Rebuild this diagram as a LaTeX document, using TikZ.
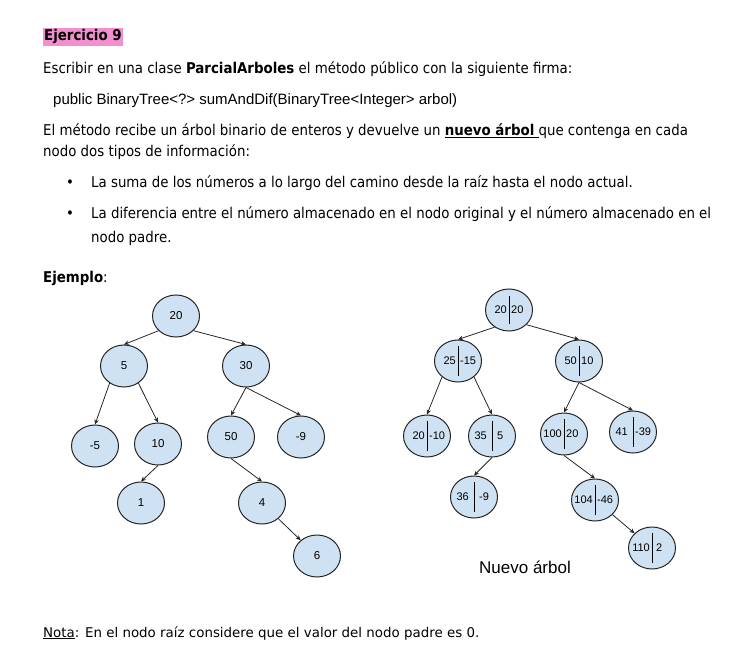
\documentclass[tikz,border=0pt]{standalone}
\usepackage{fontspec}
\setmainfont{DejaVu Sans Condensed}
\newfontfamily\verdana{DejaVu Sans}
\newfontfamily\arial{Liberation Sans}
\usetikzlibrary{arrows.meta,shapes.geometric}
\definecolor{nodeblue}{HTML}{CFE2F3}
\definecolor{hlpink}{HTML}{F48FCF}
\definecolor{edgegray}{HTML}{262626}

\begin{document}
\begin{tikzpicture}[x=1pt,y=-1pt,
  txt/.style={anchor=base west, inner sep=0pt, font=\fontsize{14.85}{17}\selectfont},
  tnode/.style={ellipse, draw=edgegray, line width=1pt, fill=nodeblue,
    minimum width=47pt, minimum height=42pt, inner sep=0pt,
    font=\arial\fontsize{11.5}{13}\selectfont},
  lval/.style={anchor=east, inner sep=2pt, font=\arial\fontsize{11}{13}\selectfont},
  rval/.style={anchor=west, inner sep=2pt, font=\arial\fontsize{11}{13}\selectfont},
  link/.style={draw=edgegray, line width=0.8pt, -{Stealth[length=5pt,width=4.5pt]}},
  div/.style={black, line width=1pt}]

\useasboundingbox (0,0) rectangle (736,660);

% text of the exercise
\node[txt, fill=hlpink, inner xsep=1pt, inner ysep=1.5pt] (title) at (43,41) {\textbf{Ejercicio 9}};
\node[txt] (l1) at (43,74) {Escribir en una clase \textbf{ParcialArboles} el método público con la siguiente firma:};
\node[txt, font=\arial\fontsize{15}{18}\selectfont] (sig) at (53,105) {public BinaryTree<?> sumAndDif(BinaryTree<Integer> arbol)};
\node[txt] (l3) at (43,136) {El método recibe un árbol binario de enteros y devuelve un \underline{\textbf{nuevo árbol}\ }que contenga en cada};
\node[txt] (l4) at (43,157) {nodo dos tipos de información:};
\node[txt] (bul1) at (66,188) {\textbullet};
\node[txt] (it1) at (91,188) {La suma de los números a lo largo del camino desde la raíz hasta el nodo actual.};
\node[txt] (bul2) at (66,219) {\textbullet};
\node[txt] (it2) at (91,219) {La diferencia entre el número almacenado en el nodo original y el número almacenado en el};
\node[txt] (it2b) at (91,243) {nodo padre.};
\node[txt] (ej) at (43,283) {\textbf{Ejemplo}:};

% original tree
\node[tnode] (a20) at (176,316) {20};
\node[tnode] (a5) at (124,366) {5};
\node[tnode] (a30) at (246,366) {30};
\node[tnode] (am5) at (95,446) {-5};
\node[tnode] (a10) at (158,444) {10};
\node[tnode] (a50) at (231,437) {50};
\node[tnode] (am9) at (301,437) {-9};
\node[tnode] (a1) at (141,503) {1};
\node[tnode] (a4) at (262,503) {4};
\node[tnode] (a6) at (317,556) {6};

\draw[link] (a20.220) -- (a5.north);
\draw[link] (a20.320) -- (a30.north);
\draw[link] (a5.230) -- (am5.north);
\draw[link] (a5.310) -- (a10.north);
\draw[link] (a30.south) -- (a50.north);
\draw[link] (a30.south) -- (am9.north);
\draw[link] (a10.south) -- (a1.north);
\draw[link] (a50.south) -- (a4.north);
\draw[link] (a4) -- (a6);

% new tree
\node[tnode] (b20) at (509,310) {};
\node[tnode] (b25) at (458,361) {};
\node[tnode] (b50) at (579,361) {};
\node[tnode] (b2010) at (427,436) {};
\node[tnode] (b35) at (492,436) {};
\node[tnode] (b100) at (564,434) {};
\node[tnode] (b41) at (633,432) {};
\node[tnode] (b36) at (474,497) {};
\node[tnode] (b104) at (595,500) {};
\node[tnode] (b110) at (652,548) {};

\draw[div] ([yshift=14pt]b20.center) -- ([yshift=-14pt]b20.center);
\draw[div] ([yshift=15pt]b25.center) -- ([yshift=-15pt]b25.center);
\draw[div] ([yshift=15pt]b50.center) -- ([yshift=-15pt]b50.center);
\draw[div] ([yshift=15pt]b2010.center) -- ([yshift=-15pt]b2010.center);
\draw[div] ([yshift=15pt]b35.center) -- ([yshift=-15pt]b35.center);
\draw[div] ([yshift=15pt]b100.center) -- ([yshift=-15pt]b100.center);
\draw[div] ([yshift=15pt]b41.center) -- ([yshift=-15pt]b41.center);
\draw[div] ([yshift=15pt]b36.center) -- ([yshift=-15pt]b36.center);
\draw[div] ([yshift=15pt]b104.center) -- ([yshift=-15pt]b104.center);
\draw[div] ([yshift=15pt]b110.center) -- ([yshift=-15pt]b110.center);

\node[lval] (b20l) at (b20.center) {20};
\node[rval] (b20r) at (b20.center) {20};
\node[lval] (b25l) at (b25.center) {25};
\node[rval] (b25r) at (b25.center) {-15};
\node[lval] (b50l) at (b50.center) {50};
\node[rval] (b50r) at (b50.center) {10};
\node[lval] (b2010l) at (b2010.center) {20};
\node[rval] (b2010r) at (b2010.center) {-10};
\node[lval, inner xsep=5pt] (b35l) at (b35.center) {35};
\node[rval, inner xsep=5pt] (b35r) at (b35.center) {5};
\node[lval] (b100l) at (b100.center) {100};
\node[rval] (b100r) at (b100.center) {20};
\node[lval, inner xsep=5pt] (b41l) at (b41.center) {41};
\node[rval] (b41r) at (b41.center) {-39};
\node[lval, inner xsep=5pt] (b36l) at (b36.center) {36};
\node[rval, inner xsep=5pt] (b36r) at (b36.center) {-9};
\node[lval] (b104l) at (b104.center) {104};
\node[rval] (b104r) at (b104.center) {-46};
\node[lval] (b110l) at (b110.center) {110};
\node[rval, inner xsep=4pt] (b110r) at (b110.center) {2};

\draw[link] (b20.230) -- (b25.north);
\draw[link] (b20.320) -- (b50.north);
\draw[link] (b25.225) -- (b2010.north);
\draw[link] (b25.315) -- (b35.north);
\draw[link] (b50.south) -- (b100.north);
\draw[link] (b50.south) -- (b41.north);
\draw[link] (b35.south) -- (b36.north);
\draw[link] (b100.south) -- (b104.north);
\draw[link] (b104) -- (b110);

\node[font=\arial\fontsize{17}{20}\selectfont] (nuevo) at (525,567) {Nuevo árbol};

\node[txt, font=\verdana\fontsize{13.4}{16}\selectfont] (nota) at (43,637) {\underline{Nota}: En el nodo raíz considere que el valor del nodo padre es 0.};
\end{tikzpicture}
\end{document}
